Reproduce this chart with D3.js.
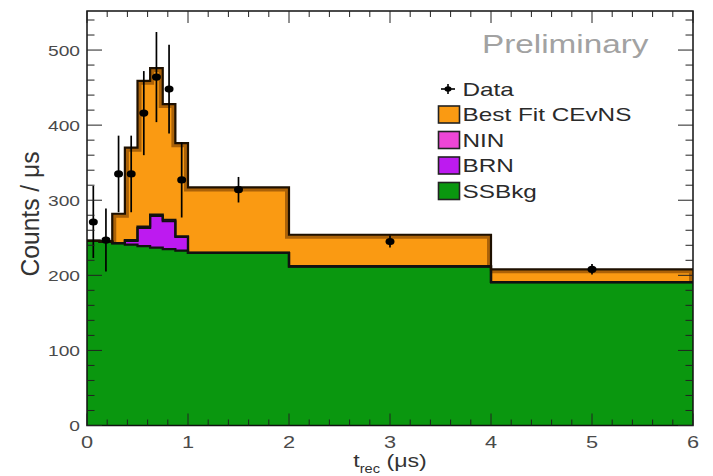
<!DOCTYPE html>
<html>
<head>
<meta charset="utf-8">
<script src="https://cdn.jsdelivr.net/npm/d3@7"></script>
<style>
  html, body { margin: 0; padding: 0; background: #fff; }
  svg { display: block; }
  text { font-family: "Liberation Sans", Arial, Helvetica, sans-serif; }
</style>
</head>
<body>
<svg id="chart" width="713" height="476"></svg>
<script>
// Bin edges of the reconstructed-time histogram (microseconds)
const binEdges = [0, 0.125, 0.25, 0.375, 0.5, 0.625, 0.75, 0.875, 1, 2, 4, 6];

// Stacked prediction, counts per microsecond in each bin
const ssbkg = [246, 245, 243, 241, 239, 237, 235, 233, 230, 212, 191];
const brn   = [0, 0, 0, 5, 24, 42, 37, 18, 0, 0, 0];
const nin   = [0, 0, 0, 1, 2, 2, 2, 1, 0, 0, 0];
const cevns = [0, 0, 39, 123, 194, 195, 154, 124, 87, 42, 17];

// Measured data points (bin centres, counts / us, statistical errors)
const dataT      = [0.0625, 0.1875, 0.3125, 0.4375, 0.5625, 0.6875, 0.8125, 0.9375, 1.5, 3, 5];
const dataCounts = [271, 247, 335, 335, 416, 464, 448, 327, 314, 245, 208];
const dataErr    = [48, 42, 51, 51, 56, 60, 59, 50, 17, 8, 7];

// Axis ticks
const xTicks = [0, 1, 2, 3, 4, 5, 6];
const yTicks = [0, 100, 200, 300, 400, 500];

// Legend entries (top to bottom)
const legendLabels = ["Data", "Best Fit CEvNS", "NIN", "BRN", "SSBkg"];

const colors = {
  cevns: "#fa9a12",
  nin: "#ee46d6",
  brn: "#bd1af0",
  ssbkg: "#0a970f"
};

const svg = d3.select("#chart");
const X0 = 87, X1 = 693, Y0 = 425.5, Y1 = 11;
const x = d3.scaleLinear().domain([0, 6]).range([X0, X1]);
const y = d3.scaleLinear().domain([0, 552]).range([Y0, Y1]);
const SX = 1.28; // horizontal widening applied to all text

function label(parent, tx, ty, str, size, anchor, fill) {
  const g = parent.append("g").attr("transform", `translate(${tx},${ty}) scale(${SX},1)`);
  return g.append("text")
    .attr("text-anchor", anchor)
    .attr("font-size", size)
    .attr("fill", fill)
    .text(str);
}

// ---- stacked histogram ----
const bins = ssbkg.map((v, i) => ({ ssbkg: v, brn: brn[i], nin: nin[i], cevns: cevns[i] }));
const keys = ["ssbkg", "brn", "nin", "cevns"];
const series = d3.stack().keys(keys)(bins);

function stepPoints(s) {
  const pts = s.map((d, i) => ({ t: binEdges[i], y0: d[0], y1: d[1] }));
  const last = s[s.length - 1];
  pts.push({ t: binEdges[binEdges.length - 1], y0: last[0], y1: last[1] });
  return pts;
}

const area = d3.area()
  .x(d => x(d.t)).y0(d => y(d.y0)).y1(d => y(d.y1))
  .curve(d3.curveStepAfter);
const topLine = d3.line()
  .x(d => x(d.t)).y(d => y(d.y1))
  .curve(d3.curveStepAfter);

const totalPts = stepPoints(series[series.length - 1]).map(d => ({ t: d.t, y0: 0, y1: d.y1 }));

const plot = svg.append("g");
const defs = svg.append("defs");
defs.append("clipPath").attr("id", "totalClip")
  .append("path").attr("d", area(totalPts));

// orange total (CEvNS on top of the stack)
plot.append("path").attr("d", area(totalPts)).attr("fill", colors.cevns);
// darker rim just inside the total outline
plot.append("path").attr("d", area(totalPts))
  .attr("fill", "none")
  .attr("stroke", "rgba(105,52,0,0.55)")
  .attr("stroke-width", 8)
  .attr("clip-path", "url(#totalClip)");

// lower stack layers
["nin", "brn", "ssbkg"].forEach(k => {
  const idx = keys.indexOf(k);
  const pts = stepPoints(series[idx]).map(d => ({ t: d.t, y0: 0, y1: d.y1 }));
  plot.append("path").attr("d", area(pts)).attr("fill", colors[k]);
});

// layer outlines
series.forEach((s, i) => {
  plot.append("path")
    .attr("d", topLine(stepPoints(s)))
    .attr("fill", "none")
    .attr("stroke", i === series.length - 1 ? "#1e1000" : "#111")
    .attr("stroke-width", 2.2);
});

// ---- data points ----
const dg = svg.append("g");
dataT.forEach((t, i) => {
  dg.append("line")
    .attr("x1", x(t)).attr("x2", x(t))
    .attr("y1", y(dataCounts[i] - dataErr[i])).attr("y2", y(dataCounts[i] + dataErr[i]))
    .attr("stroke", "#000").attr("stroke-width", 1.7);
  dg.append("ellipse")
    .attr("cx", x(t)).attr("cy", y(dataCounts[i]))
    .attr("rx", 4.5).attr("ry", 3.6)
    .attr("fill", "#000");
});

// ---- frame and ticks ----
const axes = svg.append("g").attr("stroke", "#222").attr("stroke-width", 1);
axes.append("rect")
  .attr("x", X0).attr("y", Y1).attr("width", X1 - X0).attr("height", Y0 - Y1)
  .attr("fill", "none").attr("stroke", "#111").attr("stroke-width", 1.5);

const xMinor = x.ticks(30);
xMinor.forEach(t => {
  const major = xTicks.includes(+t.toFixed(3));
  const len = major ? 12 : 6;
  axes.append("line").attr("x1", x(t)).attr("x2", x(t)).attr("y1", Y0).attr("y2", Y0 - len);
  axes.append("line").attr("x1", x(t)).attr("x2", x(t)).attr("y1", Y1).attr("y2", Y1 + len);
});
const yMinor = d3.range(0, 552, 20);
yMinor.forEach(v => {
  const major = yTicks.includes(v);
  const len = major ? 15 : 7.5;
  axes.append("line").attr("x1", X0).attr("x2", X0 + len).attr("y1", y(v)).attr("y2", y(v));
  axes.append("line").attr("x1", X1).attr("x2", X1 - len).attr("y1", y(v)).attr("y2", y(v));
});

// tick labels
const tickColor = "#4a4a4a";
yTicks.forEach(v => {
  label(svg, 80, y(v) + 5.5, String(v), 15, "end", tickColor);
});
xTicks.forEach(t => {
  label(svg, x(t), 448, String(t), 17, "middle", tickColor);
});

// axis titles
const xt = svg.append("g").attr("transform", `translate(390,467) scale(1.22,1)`)
  .append("text").attr("text-anchor", "middle").attr("font-size", 19).attr("fill", "#333");
xt.append("tspan").text("t");
xt.append("tspan").attr("font-size", 12).attr("dy", 6).text("rec");
xt.append("tspan").attr("dy", -6).text(" (\u03bcs)");

svg.append("g").attr("transform", `translate(39,214) rotate(-90) scale(1,1.25)`)
  .append("text").attr("text-anchor", "middle").attr("font-size", 20).attr("fill", "#333")
  .attr("textLength", 125).attr("lengthAdjust", "spacingAndGlyphs")
  .text("Counts / \u03bcs");

// "Preliminary" tag
label(svg, 482, 53, "Preliminary", 26, "start", "#a2a2a2");

// ---- legend ----
const lg = svg.append("g");
const legY0 = 89, legStep = 25.5;
const legendFill = [null, colors.cevns, colors.nin, colors.brn, colors.ssbkg];
legendLabels.forEach((name, i) => {
  const cy = legY0 + i * legStep;
  if (legendFill[i] === null) {
    lg.append("line").attr("x1", 441).attr("x2", 455).attr("y1", cy).attr("y2", cy)
      .attr("stroke", "#000").attr("stroke-width", 1.6);
    lg.append("line").attr("x1", 448).attr("x2", 448).attr("y1", cy - 5).attr("y2", cy + 5)
      .attr("stroke", "#000").attr("stroke-width", 1.6);
    lg.append("ellipse").attr("cx", 448).attr("cy", cy).attr("rx", 3.5).attr("ry", 2.8).attr("fill", "#000");
  } else {
    lg.append("rect").attr("x", 438.5).attr("y", cy - 8.5).attr("width", 21).attr("height", 17)
      .attr("fill", legendFill[i]).attr("stroke", "#222").attr("stroke-width", 1.6);
  }
  label(lg, 462.5, cy + 6.8, name, 19, "start", "#2a2a2a");
});
</script>
</body>
</html>
